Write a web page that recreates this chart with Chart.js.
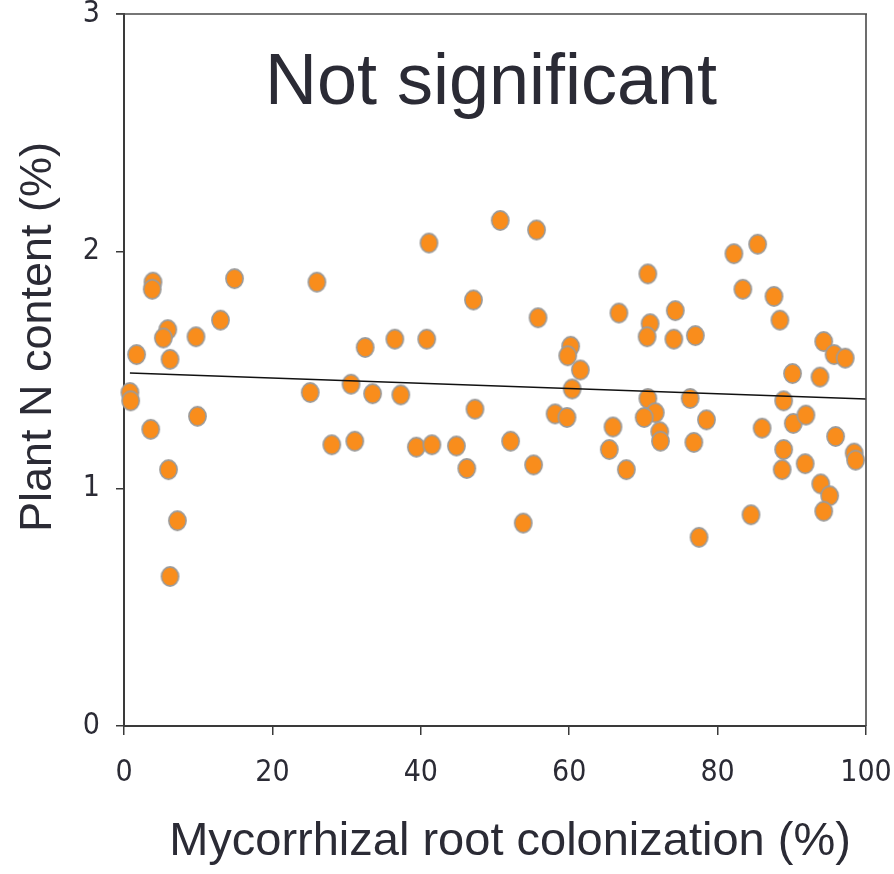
<!DOCTYPE html>
<html>
<head>
<meta charset="utf-8">
<script src="https://cdn.jsdelivr.net/npm/chart.js@4.4.0/dist/chart.umd.min.js"></script>
<style>
  body { margin: 0; background: #fff; }
  canvas { display: block; }
</style>
</head>
<body>
<canvas id="scatter" width="894" height="874"></canvas>
<script>
// colonization (%) and plant N (%) for each plant
var colonization = [3.9, 3.8, 14.9, 26.0, 13.0, 5.9, 5.3, 9.7, 1.7, 6.2,
    0.8, 0.9, 25.1, 30.6, 3.6, 9.9, 28.0, 31.1, 6.0, 7.2,
    6.2, 32.5, 41.1, 50.7, 55.6, 47.1, 55.8, 66.7, 36.5, 40.8,
    60.2, 59.8, 61.5, 60.4, 33.5, 37.3, 47.3, 58.1, 59.7, 65.9,
    65.4, 39.4, 41.5, 44.8, 52.1, 46.2, 55.2, 53.8, 67.7, 70.6,
    82.2, 85.4, 74.3, 70.9, 70.5, 74.1, 77.0, 83.4, 87.6, 88.4,
    94.3, 95.7, 97.2, 90.1, 93.8, 70.6, 71.6, 70.1, 72.2, 72.3,
    76.3, 78.5, 76.8, 88.9, 86.0, 90.2, 91.9, 95.9, 88.9, 88.7,
    91.8, 98.4, 98.6, 93.9, 95.1, 94.3, 84.5, 77.5];
var nContent = [1.87, 1.84, 1.885, 1.87, 1.71, 1.67, 1.635, 1.64, 1.565, 1.545,
    1.405, 1.37, 1.405, 1.44, 1.25, 1.305, 1.185, 1.20, 1.08, 0.865,
    0.63, 1.595, 2.035, 2.13, 2.09, 1.795, 1.72, 1.74, 1.63, 1.63,
    1.60, 1.56, 1.50, 1.42, 1.40, 1.395, 1.335, 1.315, 1.30, 1.26,
    1.165, 1.175, 1.185, 1.18, 1.20, 1.085, 1.10, 0.855, 1.08, 1.905,
    1.99, 2.03, 1.75, 1.695, 1.64, 1.63, 1.645, 1.84, 1.81, 1.71,
    1.62, 1.565, 1.55, 1.485, 1.47, 1.38, 1.32, 1.30, 1.24, 1.20,
    1.38, 1.29, 1.195, 1.37, 1.255, 1.275, 1.31, 1.22, 1.165, 1.08,
    1.105, 1.15, 1.12, 1.02, 0.97, 0.905, 0.89, 0.795];

// fitted line (not significant)
var trendX = [0.8, 100];
var trendY = [1.487, 1.378];

var xTicks = [0, 20, 40, 60, 80, 100];
var yTicks = [0, 1, 2, 3];

var xTitle = "Mycorrhizal root colonization (%)";
var yTitle = "Plant N content (%)";
var note = "Not significant";

var textColor = "#2b2b35";
var tickFont = "'Liberation Sans Narrow', 'DejaVu Sans Condensed', sans-serif";
var titleFont = "'Liberation Sans', Arial, sans-serif";

// orange dot, a bit taller than wide like in the figure
function makeDot() {
    var c = document.createElement("canvas");
    c.width = 21;
    c.height = 23;
    var g = c.getContext("2d");
    g.beginPath();
    g.ellipse(10.5, 11.5, 8.6, 9.6, 0, 0, Math.PI * 2);
    g.fillStyle = "#f98d1c";
    g.fill();
    g.lineWidth = 1.6;
    g.strokeStyle = "#9b9b9b";
    g.stroke();
    return c;
}

var points = colonization.map(function (v, i) { return {x: v, y: nContent[i]}; });
var trend = trendX.map(function (v, i) { return {x: v, y: trendY[i]}; });

var extras = {
    id: "extras",
    afterDraw: function (chart) {
        var ctx = chart.ctx;
        var a = chart.chartArea;
        ctx.save();
        // top and right frame
        ctx.strokeStyle = "#4a4a4a";
        ctx.lineWidth = 1.6;
        ctx.beginPath();
        ctx.moveTo(a.left - 8, a.top);
        ctx.lineTo(a.right + 1, a.top);
        ctx.moveTo(a.right, a.top);
        ctx.lineTo(a.right, a.bottom);
        ctx.stroke();

        ctx.fillStyle = textColor;
        ctx.textAlign = "center";
        ctx.textBaseline = "alphabetic";
        ctx.font = "72px " + titleFont;
        ctx.fillText(note, 491, 104);

        ctx.font = "47px " + titleFont;
        ctx.fillText(xTitle, 510, 855);

        ctx.translate(51, 337);
        ctx.rotate(-Math.PI / 2);
        ctx.font = "45px " + titleFont;
        ctx.fillText(yTitle, 0, 0);
        ctx.restore();
    }
};

var chart = new Chart("scatter", {
    type: "scatter",
    data: {
        datasets: [{
            type: "line",
            data: trend,
            borderColor: "#111",
            borderWidth: 1.5,
            pointRadius: 0,
            fill: false
        }, {
            data: points,
            pointStyle: makeDot(),
            pointRadius: 10,
            clip: false
        }]
    },
    options: {
        responsive: false,
        animation: false,
        layout: { padding: { top: 14, right: 28, left: 0, bottom: 0 } },
        plugins: { legend: { display: false }, tooltip: { enabled: false } },
        scales: {
            x: {
                type: "linear",
                min: 0, max: 100,
                afterBuildTicks: function (s) { s.ticks = xTicks.map(function (v) { return {value: v}; }); },
                afterFit: function (s) { s.height = 148; s.paddingLeft = 0; s.paddingRight = 0; },
                ticks: { color: textColor, font: { family: tickFont, size: 30 }, padding: 20, maxRotation: 0 },
                grid: { drawOnChartArea: false, tickLength: 9, color: "#3a3a3a", lineWidth: 1.5 },
                border: { color: "#3a3a3a", width: 2 }
            },
            y: {
                min: 0, max: 3,
                afterBuildTicks: function (s) { s.ticks = yTicks.map(function (v) { return {value: v}; }); },
                afterFit: function (s) { s.width = 124; s.paddingTop = 0; s.paddingBottom = 0; },
                ticks: { color: textColor, font: { family: tickFont, size: 30 }, padding: 16 },
                grid: { drawOnChartArea: false, tickLength: 8, color: "#3a3a3a", lineWidth: 1.5 },
                border: { color: "#3a3a3a", width: 2 }
            }
        }
    },
    plugins: [extras]
});
</script>
</body>
</html>
